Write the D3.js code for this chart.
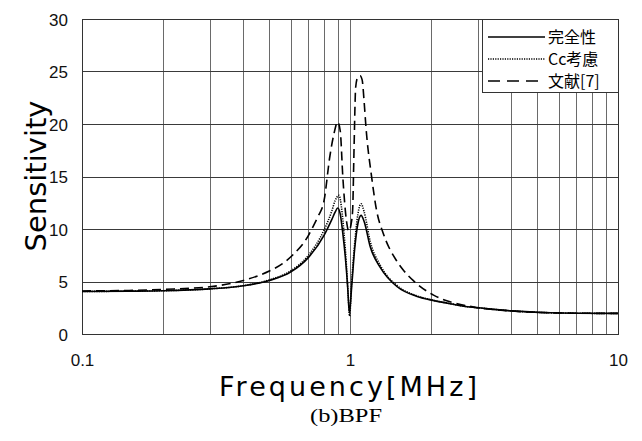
<!DOCTYPE html>
<html><head><meta charset="utf-8">
<script src="https://cdn.jsdelivr.net/npm/d3@7"></script>
<style>body{margin:0;background:#fff}svg{display:block}</style>
</head><body><svg id="chart" width="642" height="441"></svg>
<script>
// Axis ticks
const xTickValues = [0.1, 1, 10];
const xTickLabels = ["0.1", "1", "10"];
const yTickValues = [0, 5, 10, 15, 20, 25, 30];

// Series names (legend)
const seriesNames = ["完全性", "Cc考慮", "文献[7]"];

// 完全性 (solid)
const freqFull = [0.1, 0.15, 0.2, 0.3, 0.4, 0.5, 0.6, 0.7, 0.8, 0.855, 0.88, 0.9, 0.92, 0.94, 0.96, 0.98, 0.995, 1.015, 1.04, 1.07, 1.1, 1.13, 1.19, 1.3, 1.5, 1.77, 2.04, 2.4, 2.74, 3, 4, 5.6, 7, 10];
const sensFull = [4.05, 4.08, 4.12, 4.3, 4.6, 5.1, 5.9, 7.3, 9.4, 10.9, 11.6, 12.0, 11.4, 9.6, 7.4, 4.5, 2.0, 4.6, 8.0, 10.5, 11.3, 10.7, 8.3, 6.3, 4.5, 3.6, 3.2, 2.85, 2.6, 2.5, 2.2, 2.02, 1.98, 1.96];

// Cc考慮 (dotted)
const freqCc = [0.1, 0.15, 0.2, 0.3, 0.4, 0.5, 0.6, 0.7, 0.8, 0.855, 0.88, 0.91, 0.93, 0.95, 0.97, 0.985, 0.997, 1.012, 1.04, 1.07, 1.1, 1.13, 1.19, 1.3, 1.5, 1.77, 2.04, 2.4, 2.74, 3, 4, 5.6, 7, 10];
const sensCc = [4.05, 4.08, 4.12, 4.3, 4.6, 5.15, 6.0, 7.5, 9.9, 11.7, 12.7, 13.2, 12.0, 9.6, 6.5, 3.6, 1.7, 4.5, 8.5, 11.4, 12.4, 11.6, 8.8, 6.5, 4.6, 3.65, 3.22, 2.86, 2.6, 2.5, 2.2, 2.02, 1.98, 1.96];

// 文献[7] (dashed)
const freqRef = [0.1, 0.15, 0.2, 0.3, 0.4, 0.5, 0.56, 0.61, 0.7, 0.72, 0.76, 0.8, 0.842, 0.87, 0.9, 0.92, 0.94, 0.97, 0.99, 1.01, 1.023, 1.035, 1.05, 1.07, 1.09, 1.11, 1.13, 1.147, 1.205, 1.256, 1.33, 1.49, 1.58, 1.72, 2.05, 2.36, 2.96, 3.95, 5.6, 7, 10];
const sensRef = [4.1, 4.15, 4.25, 4.5, 5.1, 6.0, 6.7, 7.5, 9.4, 10.0, 11.2, 12.7, 17.0, 19.0, 20.2, 19.3, 15.0, 10.8, 9.8, 10.5, 11.8, 17.5, 23.5, 24.5, 24.6, 24.2, 22.0, 19.7, 14.9, 11.8, 9.6, 7.0, 6.1, 5.1, 3.7, 3.07, 2.53, 2.2, 2.02, 1.98, 1.96];

const svg = d3.select("#chart");
const W = 642, H = 441;
const m = {left: 82, right: 618, top: 19, bottom: 334};

const x = d3.scaleLog().domain([0.1, 10]).range([m.left, m.right]);
const y = d3.scaleLinear().domain([0, 30]).range([m.bottom, m.top]);

svg.append("rect").attr("width", W).attr("height", H).attr("fill", "#fff");

// Minor vertical grid (2..9 per decade) plus the 1 MHz line
const minorX = [];
[0.1, 1].forEach(d => { for (let k = 2; k <= 9; k++) minorX.push(+(d * k).toFixed(2)); });
svg.append("g").selectAll("line").data(minorX.concat([1])).join("line")
  .attr("x1", d => Math.round(x(d)) + 0.5).attr("x2", d => Math.round(x(d)) + 0.5)
  .attr("y1", m.top).attr("y2", m.bottom)
  .attr("stroke", "#6a6a6a").attr("stroke-width", 1);

// Horizontal grid
svg.append("g").selectAll("line").data(yTickValues.filter(v => v > 0 && v < 30)).join("line")
  .attr("x1", m.left).attr("x2", m.right)
  .attr("y1", d => Math.round(y(d)) + 0.5).attr("y2", d => Math.round(y(d)) + 0.5)
  .attr("stroke", "#3a3a3a").attr("stroke-width", 1);

// Plot frame
svg.append("rect")
  .attr("x", m.left + 0.5).attr("y", m.top + 0.5)
  .attr("width", m.right - m.left).attr("height", m.bottom - m.top)
  .attr("fill", "none").attr("stroke", "#333").attr("stroke-width", 1);

// Axes (labels only; lines are the frame)
const xAxis = d3.axisBottom(x).tickValues(xTickValues)
  .tickFormat((d, i) => xTickLabels[i]).tickSize(0).tickPadding(0);
const gx = svg.append("g").attr("transform", `translate(0,${m.bottom})`).call(xAxis);
gx.select(".domain").remove();
gx.selectAll("text").attr("y", 32).attr("dy", 0)
  .attr("font-family", "Liberation Sans, Arial, sans-serif").attr("font-size", 17).attr("fill", "#111");

const yAxis = d3.axisLeft(y).tickValues(yTickValues).tickSize(0).tickPadding(0);
const gy = svg.append("g").attr("transform", `translate(${m.left},0)`).call(yAxis);
gy.select(".domain").remove();
gy.selectAll("text").attr("x", -14).attr("dy", "0.36em")
  .attr("font-family", "Liberation Sans, Arial, sans-serif").attr("font-size", 17).attr("fill", "#111");

// Curves
const line = (fs, vs) => d3.line()
  .x((d, i) => x(fs[i])).y((d, i) => y(vs[i]))
  .curve(d3.curveMonotoneX)(vs);

const styles = [
  {dash: null, width: 1.6},
  {dash: "1.2,1.2", width: 1.6},
  {dash: "9,5", width: 1.6}
];
const seriesData = [[freqFull, sensFull], [freqCc, sensCc], [freqRef, sensRef]];

const plot = svg.append("g");
seriesData.forEach(([fs, vs], i) => {
  plot.append("path").attr("d", line(fs, vs))
    .attr("fill", "none").attr("stroke", "#000")
    .attr("stroke-width", styles[i].width)
    .attr("stroke-dasharray", styles[i].dash);
});

// Legend
const lg = svg.append("g");
lg.append("rect").attr("x", 482.5).attr("y", m.top + 0.5).attr("width", m.right - 482).attr("height", 73)
  .attr("fill", "#fff").attr("stroke", "#333").attr("stroke-width", 1);
seriesNames.forEach((name, i) => {
  const yy = 37 + i * 22;
  lg.append("line").attr("x1", 488).attr("x2", 545).attr("y1", yy).attr("y2", yy)
    .attr("stroke", "#000").attr("stroke-width", styles[i].width)
    .attr("stroke-dasharray", i === 2 ? "12,7" : styles[i].dash);
  lg.append("text").attr("x", 548).attr("y", yy).attr("dy", "0.36em")
    .attr("font-family", "Noto Sans CJK JP, sans-serif").attr("font-size", 16).attr("fill", "#000")
    .text(name);
});

// Axis titles
svg.append("text")
  .attr("transform", "translate(36,176) rotate(-90)")
  .attr("text-anchor", "middle").attr("dy", "0.36em")
  .attr("font-family", "DejaVu Sans, sans-serif").attr("font-size", 29).attr("fill", "#000")
  .text("Sensitivity");

svg.append("text")
  .attr("x", 348).attr("y", 396).attr("text-anchor", "middle")
  .attr("font-family", "DejaVu Sans, sans-serif").attr("font-size", 27).attr("fill", "#000")
  .attr("textLength", 258).attr("lengthAdjust", "spacing")
  .text("Frequency[MHz]");

svg.append("text")
  .attr("x", 346).attr("y", 422).attr("text-anchor", "middle")
  .attr("font-family", "Liberation Serif, serif").attr("font-size", 18).attr("fill", "#000")
  .attr("textLength", 72).attr("lengthAdjust", "spacingAndGlyphs")
  .text("(b)BPF");
</script>
</body></html>
